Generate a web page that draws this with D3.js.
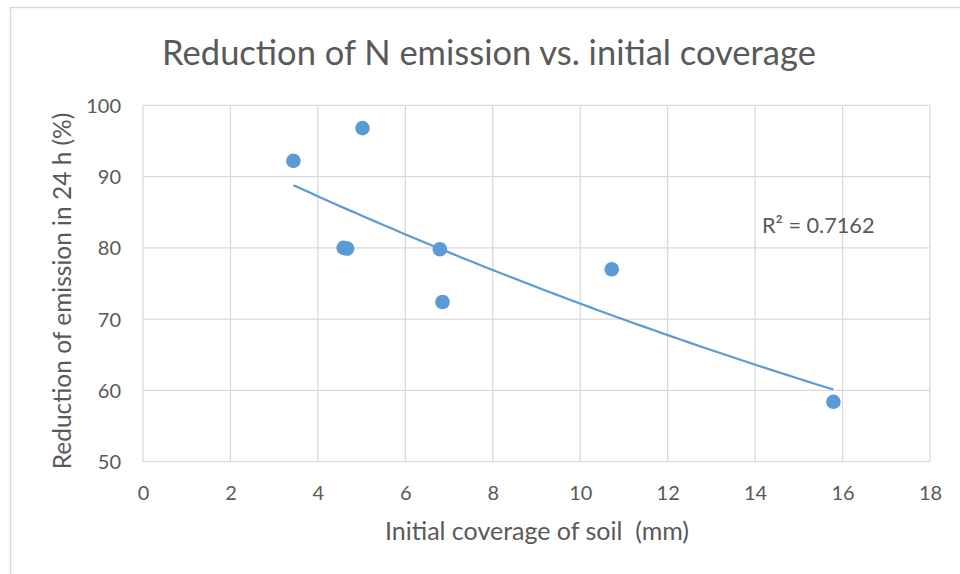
<!DOCTYPE html>
<html>
<head>
<meta charset="utf-8">
<script src="https://cdn.jsdelivr.net/npm/d3@7"></script>
<style>
  html, body { margin: 0; padding: 0; background: #fff; }
  svg { display: block; }
  text { font-family: Lato, "Open Sans", sans-serif; fill: #595959; white-space: pre; }
</style>
</head>
<body>
<svg id="chart" width="960" height="574"></svg>
<script>
// Initial soil coverage (mm) and reduction of N emission after 24 h (%)
const coverage  = [3.44, 5.02, 4.59, 4.67, 6.79, 6.85, 10.72, 15.79];
const reduction = [92.2, 96.8, 80.0, 79.9, 79.8, 72.4, 77.0, 58.4];

const xTicks = [0, 2, 4, 6, 8, 10, 12, 14, 16, 18];
const yTicks = [50, 60, 70, 80, 90, 100];

const titleText = "Reduction of N emission vs. initial coverage";
const xTitle = "Initial coverage of soil  (mm)";
const yTitle = "Reduction of emission in 24 h (%)";
const r2Text = "R² = 0.7162";

const blue = "#5B9BD5";
const grid = "#D9D9D9";

const svg = d3.select("#chart");
const plot = { left: 143, right: 930, top: 105.3, bottom: 461.7 };

const x = d3.scaleLinear().domain([0, 18]).range([plot.left, plot.right]);
const y = d3.scaleLinear().domain([50, 100]).range([plot.bottom, plot.top]);

// chart frame (left and top edges)
svg.append("path")
  .attr("d", "M10.5,574 V7.5 H960")
  .attr("fill", "none")
  .attr("stroke", grid)
  .attr("stroke-width", 1.5);

// title
svg.append("text")
  .attr("x", 489).attr("y", 65)
  .attr("text-anchor", "middle")
  .attr("font-size", 34.5)
  .text(titleText);

// gridlines
const g = svg.append("g");
g.selectAll("line.v").data(xTicks).join("line")
  .attr("class", "v")
  .attr("x1", d => x(d)).attr("x2", d => x(d))
  .attr("y1", plot.top).attr("y2", plot.bottom)
  .attr("stroke", grid).attr("stroke-width", 1.3);
g.selectAll("line.h").data(yTicks).join("line")
  .attr("class", "h")
  .attr("y1", d => y(d)).attr("y2", d => y(d))
  .attr("x1", plot.left).attr("x2", plot.right)
  .attr("stroke", grid).attr("stroke-width", 1.3);

// axes (labels only, lines hidden)
const xAxis = svg.append("g")
  .attr("transform", `translate(0,${plot.bottom})`)
  .call(d3.axisBottom(x).tickValues(xTicks).tickSize(0).tickPadding(38));
const yAxis = svg.append("g")
  .attr("transform", `translate(${plot.left},0)`)
  .call(d3.axisLeft(y).tickValues(yTicks).tickSize(0).tickPadding(22));
[xAxis, yAxis].forEach(a => {
  a.select(".domain").remove();
  a.selectAll("text")
    .attr("font-family", "Lato, 'Open Sans', sans-serif")
    .attr("font-size", 20)
    .attr("fill", "#595959");
});
xAxis.selectAll("text").attr("dy", 0);
yAxis.selectAll("text").attr("dy", "0.35em");

// axis titles
svg.append("text")
  .attr("x", 537).attr("y", 540)
  .attr("text-anchor", "middle")
  .attr("font-size", 25)
  .text(xTitle);
svg.append("text")
  .attr("transform", "translate(71,291) rotate(-90)")
  .attr("text-anchor", "middle")
  .attr("font-size", 24.5)
  .text(yTitle);

// exponential trendline: least squares on ln(y)
const lny = reduction.map(Math.log);
const mx = d3.mean(coverage), my = d3.mean(lny);
const sxx = d3.sum(coverage, v => (v - mx) * (v - mx));
const sxy = d3.sum(coverage.map((v, i) => (v - mx) * (lny[i] - my)));
const b = sxy / sxx;
const a = Math.exp(my - b * mx);
const [x0, x1] = d3.extent(coverage);
const curve = d3.range(0, 61).map(i => {
  const xv = x0 + (x1 - x0) * i / 60;
  return [xv, a * Math.exp(b * xv)];
});
svg.append("path")
  .datum(curve)
  .attr("fill", "none")
  .attr("stroke", blue)
  .attr("stroke-width", 2.2)
  .attr("d", d3.line().x(d => x(d[0])).y(d => y(d[1])));

// data points
svg.append("g").selectAll("circle")
  .data(coverage.map((c, i) => [c, reduction[i]]))
  .join("circle")
  .attr("cx", d => x(d[0]))
  .attr("cy", d => y(d[1]))
  .attr("r", 7.3)
  .attr("fill", blue);

// R² label
svg.append("text")
  .attr("x", 762).attr("y", 233)
  .attr("font-size", 21.7)
  .text(r2Text);
</script>
</body>
</html>
